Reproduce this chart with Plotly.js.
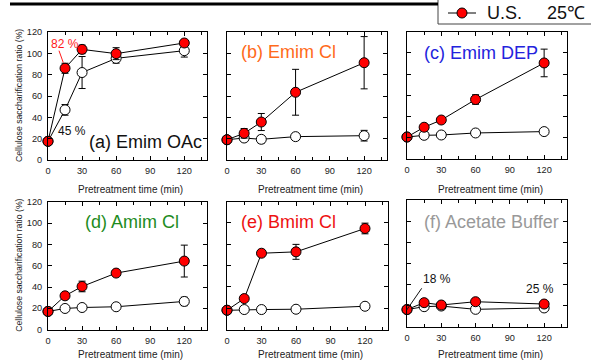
<!DOCTYPE html>
<html>
<head>
<meta charset="utf-8">
<script src="https://cdn.plot.ly/plotly-3.0.1.min.js"></script>
<style>html,body{margin:0;padding:0;background:#fff;}#chart{width:591px;height:363px;}</style>
</head>
<body>
<div id="chart"></div>
<script>
// ---- data ----
const time = [0, 15, 30, 60, 120];

const a_us = [17.5, 86, 103.7, 99.7, 109.7];
const a_us_err = [0, 4.7, 4, 5.6, 2.5];
const a_ctrl = [17.5, 47, 82, 95.3, 102.5];
const a_ctrl_err = [0, 5, 15, 4.5, 6];

const b_us = [19, 25, 35.6, 63.5, 91.2];
const b_us_err = [0, 4.5, 8, 21.5, 24.5];
const b_ctrl = [19, 20.6, 19.4, 21.9, 22.8];
const b_ctrl_err = [0, 3, 3.5, 3, 5];

const c_us = [20.7, 29.9, 36.7, 56, 90.4];
const c_us_err = [0, 2, 2, 4.5, 13];
const c_ctrl = [20.7, 22.3, 22.6, 24.5, 25.8];
const c_ctrl_err = [0, 1, 1, 1, 1];

const d_us = [17, 31.7, 40.5, 53.1, 64.4];
const d_us_err = [0, 2, 5, 2, 15];
const d_ctrl = [17, 19.8, 20.7, 21.4, 26.4];
const d_ctrl_err = [0, 1, 1, 1, 4];

const e_us = [18.1, 29, 71.5, 72.8, 94.7];
const e_us_err = [0, 2, 3, 7, 5];
const e_ctrl = [18, 18.7, 18.7, 19, 21.8];
const e_ctrl_err = [0, 1, 1, 1, 1];

const f_us = [16.5, 23, 20.8, 23.9, 21.7];
const f_us_err = [0, 0, 0, 0, 0];
const f_ctrl = [16.5, 19.2, 19.8, 16.7, 18];
const f_ctrl_err = [0, 0, 0, 0, 0];

const panelLabels = ['(a) Emim OAc', '(b) Emim Cl', '(c) Emim DEP', '(d) Amim Cl', '(e) Bmim Cl', '(f) Acetate Buffer'];
const panelColors = ['#111111', '#ff6a1a', '#2323dd', '#1e8c1e', '#ee1111', '#999999'];
const xTicks = [0, 30, 60, 90, 120];
const yTicks = [0, 20, 40, 60, 80, 100, 120];
const legendLabel = 'U.S.';
const legendTemp = '25\u2103';

// ---- layout helpers (pixel -> paper) ----
const W = 591, H = 363;
const px = v => v / W;
const py = v => 1 - v / H;

const panels = [
  {us: a_us, ue: a_us_err, c: a_ctrl, ce: a_ctrl_err, x: [48, 207], y: [32, 160]},
  {us: b_us, ue: b_us_err, c: b_ctrl, ce: b_ctrl_err, x: [227, 387], y: [32, 160]},
  {us: c_us, ue: c_us_err, c: c_ctrl, ce: c_ctrl_err, x: [407, 567], y: [31.5, 159]},
  {us: d_us, ue: d_us_err, c: d_ctrl, ce: d_ctrl_err, x: [48, 207], y: [202, 329.5]},
  {us: e_us, ue: e_us_err, c: e_ctrl, ce: e_ctrl_err, x: [227, 388], y: [201.5, 329.5]},
  {us: f_us, ue: f_us_err, c: f_ctrl, ce: f_ctrl_err, x: [407, 567], y: [200, 327]}
];
const labelPos = [[87, 141.7], [239, 51.7], [422, 53.3], [83, 222.3], [239, 221.7], [422, 221.7]];

const FONT = 'Liberation Sans, Arial, sans-serif';
const traces = [];
const layout = {
  width: W, height: H,
  margin: {l: 0, r: 0, t: 0, b: 0, pad: 0, autoexpand: false},
  paper_bgcolor: '#fff', plot_bgcolor: 'rgba(0,0,0,0)',
  font: {family: FONT, color: '#222'},
  showlegend: false,
  annotations: [], shapes: []
};

panels.forEach((p, i) => {
  const n = i + 1;
  const xa = n === 1 ? 'x' : 'x' + n;
  const ya = n === 1 ? 'y' : 'y' + n;
  traces.push({
    x: time, y: p.c, xaxis: xa, yaxis: ya, type: 'scatter', mode: 'lines+markers',
    name: 'Control',
    line: {color: '#000', width: 1},
    marker: {size: 10, color: '#fff', line: {color: '#000', width: 1}},
    error_y: {type: 'data', array: p.ce, visible: true, color: '#000', thickness: 1, width: 3.5},
    showlegend: false, cliponaxis: false, hoverinfo: 'x+y'
  });
  traces.push({
    x: time, y: p.us, xaxis: xa, yaxis: ya, type: 'scatter', mode: 'lines+markers',
    name: legendLabel + ' ' + legendTemp,
    line: {color: '#000', width: 1},
    marker: {size: 10, color: '#ff0000', line: {color: '#000', width: 1}},
    error_y: {type: 'data', array: p.ue, visible: true, color: '#000', thickness: 1, width: 3.5},
    showlegend: false, cliponaxis: false, hoverinfo: 'x+y'
  });
  const xkey = n === 1 ? 'xaxis' : 'xaxis' + n;
  const ykey = n === 1 ? 'yaxis' : 'yaxis' + n;
  layout[xkey] = {
    domain: [px(p.x[0]), px(p.x[1])], anchor: ya, range: [0, 140],
    tickvals: xTicks, ticktext: xTicks.map(String),
    ticks: 'inside', ticklen: 4, tickwidth: 1, tickcolor: '#000',
    minor: {dtick: 15, tick0: 0, ticks: 'inside', ticklen: 3, tickwidth: 1, tickcolor: '#000'},
    showline: true, linecolor: '#000', linewidth: 1, mirror: 'ticks',
    showgrid: false, zeroline: false, fixedrange: true, automargin: false,
    tickfont: {family: FONT, size: 9.2, color: '#222'}, ticklabelstandoff: 2
  };
  layout[ykey] = {
    domain: [py(p.y[1]), py(p.y[0])], anchor: xa, range: [0, 120],
    tickvals: yTicks, ticktext: yTicks.map(String),
    ticks: 'inside', ticklen: 4, tickwidth: 1, tickcolor: '#000',
    showline: true, linecolor: '#000', linewidth: 1, mirror: 'ticks',
    showgrid: false, zeroline: false, fixedrange: true, automargin: false,
    showticklabels: (i % 3 === 0),
    tickfont: {family: FONT, size: 9.2, color: '#222'}, ticklabelstandoff: 3
  };
  // panel label
  layout.annotations.push({
    xref: 'paper', yref: 'paper', x: px(labelPos[i][0]), y: py(labelPos[i][1]),
    xanchor: 'left', yanchor: 'middle', showarrow: false, text: panelLabels[i],
    font: {family: FONT, size: 18, color: panelColors[i]}
  });
  // x title
  layout.annotations.push({
    xref: 'paper', yref: 'paper', x: px((p.x[0] + p.x[1]) / 2 + 3), y: py(i < 3 ? 189 : 354),
    xanchor: 'center', yanchor: 'middle', showarrow: false, text: 'Pretreatment time (min)',
    font: {family: FONT, size: 10, color: '#222'}
  });
  if (i % 3 === 0) {
    layout.annotations.push({
      xref: 'paper', yref: 'paper', x: px(19), y: py((p.y[0] + p.y[1]) / 2),
      xanchor: 'center', yanchor: 'middle', showarrow: false, textangle: -90,
      text: 'Cellulose saccharification ratio (%)',
      font: {family: FONT, size: 8.7, color: '#222'}
    });
  }
});

// value call-outs
layout.annotations.push(
  {xref: 'paper', yref: 'paper', x: px(48.5), y: py(44), xanchor: 'left', yanchor: 'middle', showarrow: false,
   text: '82 %', font: {family: FONT, size: 12, color: '#ff1a1a'}},
  {xref: 'paper', yref: 'paper', x: px(56), y: py(130.7), xanchor: 'left', yanchor: 'middle', showarrow: false,
   text: '45 %', font: {family: FONT, size: 12, color: '#111'}},
  {xref: 'paper', yref: 'paper', x: px(421), y: py(279), xanchor: 'left', yanchor: 'middle', showarrow: false,
   text: '18 %', font: {family: FONT, size: 12, color: '#111'}},
  {xref: 'paper', yref: 'paper', x: px(524), y: py(289), xanchor: 'left', yanchor: 'middle', showarrow: false,
   text: '25 %', font: {family: FONT, size: 12, color: '#111'}},
  // legend text (legend box is cut by the figure edge, as in the original)
  {xref: 'paper', yref: 'paper', x: px(485), y: py(13.5), xanchor: 'left', yanchor: 'middle', showarrow: false,
   text: legendLabel, font: {family: FONT, size: 18, color: '#111'}},
  {xref: 'paper', yref: 'paper', x: px(545), y: py(13.5), xanchor: 'left', yanchor: 'middle', showarrow: false,
   text: legendTemp, font: {family: FONT, size: 18, color: '#111'}}
);
layout.shapes.push(
  {type: 'line', xref: 'paper', yref: 'paper', x0: px(59), y0: py(50.7), x1: px(63.3), y1: py(62.7),
   line: {color: '#ff1a1a', width: 1}},
  {type: 'line', xref: 'paper', yref: 'paper', x0: px(421.7), y0: py(288.3), x1: px(406.7), y1: py(310),
   line: {color: '#111', width: 1}},
  {type: 'line', xref: 'paper', yref: 'paper', x0: px(10), y0: py(4), x1: px(438), y1: py(4),
   line: {color: '#000', width: 3}},
  // legend frame and sample symbol
  {type: 'rect', xref: 'paper', yref: 'paper', x0: px(438), y0: py(-6), x1: px(600), y1: py(24),
   line: {color: '#444', width: 1}, fillcolor: '#fff', layer: 'below'},
  {type: 'line', xref: 'paper', yref: 'paper', x0: px(448), y0: py(13), x1: px(476), y1: py(13),
   line: {color: '#000', width: 1}},
  {type: 'circle', xref: 'paper', yref: 'paper', x0: px(457), y0: py(8), x1: px(467), y1: py(18),
   line: {color: '#000', width: 1}, fillcolor: '#ff0000'}
);

Plotly.newPlot('chart', traces, layout, {displayModeBar: false, staticPlot: true});
</script>
</body>
</html>
